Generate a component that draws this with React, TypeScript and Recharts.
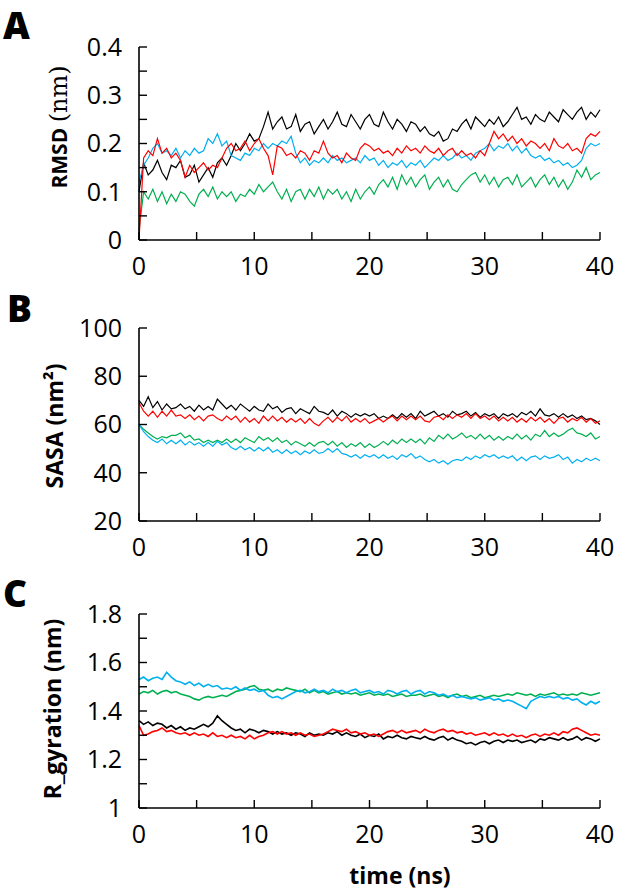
import React from "react";
import { LineChart, Line, XAxis, YAxis } from "recharts";

const TIME = [
  0,0.4,0.8,1.2,1.6,2,2.4,2.8,3.2,3.6,
  4,4.4,4.8,5.2,5.6,6,6.4,6.8,7.2,7.6,
  8,8.4,8.8,9.2,9.6,10,10.4,10.8,11.2,11.6,
  12,12.4,12.8,13.2,13.6,14,14.4,14.8,15.2,15.6,
  16,16.4,16.8,17.2,17.6,18,18.4,18.8,19.2,19.6,
  20,20.4,20.8,21.2,21.6,22,22.4,22.8,23.2,23.6,
  24,24.4,24.8,25.2,25.6,26,26.4,26.8,27.2,27.6,
  28,28.4,28.8,29.2,29.6,30,30.4,30.8,31.2,31.6,
  32,32.4,32.8,33.2,33.6,34,34.4,34.8,35.2,35.6,
  36,36.4,36.8,37.2,37.6,38,38.4,38.8,39.2,39.6,
  40,
];

// Panel A: RMSD (nm)
const A_BLACK = [
  0.10,0.16,0.135,0.145,0.165,0.14,0.125,0.155,0.15,0.165,
  0.13,0.135,0.155,0.12,0.135,0.15,0.13,0.16,0.17,0.155,
  0.175,0.2,0.185,0.2,0.22,0.205,0.21,0.235,0.265,0.23,
  0.245,0.255,0.23,0.235,0.26,0.225,0.24,0.245,0.22,0.235,
  0.25,0.23,0.245,0.265,0.24,0.235,0.26,0.245,0.23,0.25,
  0.26,0.24,0.235,0.265,0.245,0.23,0.25,0.24,0.225,0.245,
  0.24,0.225,0.235,0.22,0.215,0.225,0.205,0.21,0.23,0.225,
  0.24,0.25,0.23,0.255,0.245,0.235,0.25,0.24,0.255,0.235,
  0.245,0.26,0.275,0.25,0.255,0.24,0.26,0.25,0.245,0.265,
  0.255,0.245,0.27,0.26,0.25,0.265,0.275,0.25,0.265,0.255,
  0.27,
];
const A_RED = [
  0.0,0.17,0.185,0.175,0.21,0.18,0.19,0.17,0.18,0.165,
  0.13,0.155,0.14,0.15,0.16,0.145,0.155,0.15,0.17,0.19,
  0.2,0.185,0.19,0.205,0.185,0.2,0.21,0.19,0.175,0.135,
  0.195,0.19,0.175,0.18,0.17,0.185,0.18,0.165,0.185,0.18,
  0.205,0.18,0.17,0.175,0.16,0.18,0.17,0.165,0.19,0.2,
  0.195,0.185,0.19,0.18,0.185,0.175,0.19,0.18,0.195,0.185,
  0.19,0.18,0.195,0.185,0.18,0.19,0.175,0.185,0.19,0.175,
  0.185,0.175,0.18,0.17,0.185,0.175,0.2,0.225,0.21,0.22,
  0.205,0.215,0.2,0.21,0.195,0.205,0.2,0.19,0.2,0.185,
  0.21,0.195,0.19,0.2,0.185,0.19,0.18,0.21,0.22,0.215,
  0.225,
];
const A_BLUE = [
  0.12,0.155,0.17,0.19,0.2,0.18,0.185,0.175,0.19,0.17,
  0.185,0.175,0.19,0.18,0.185,0.21,0.2,0.22,0.195,0.205,
  0.175,0.17,0.165,0.18,0.175,0.19,0.185,0.2,0.19,0.2,
  0.195,0.205,0.2,0.215,0.18,0.16,0.17,0.155,0.165,0.16,
  0.17,0.16,0.175,0.165,0.17,0.16,0.165,0.17,0.16,0.175,
  0.165,0.17,0.155,0.165,0.15,0.16,0.155,0.165,0.15,0.16,
  0.155,0.165,0.15,0.16,0.17,0.165,0.175,0.165,0.17,0.18,
  0.17,0.175,0.165,0.18,0.185,0.19,0.2,0.185,0.195,0.19,
  0.2,0.185,0.195,0.18,0.19,0.175,0.17,0.175,0.165,0.17,
  0.16,0.165,0.155,0.16,0.15,0.155,0.165,0.19,0.2,0.195,
  0.2,
];
const A_GREEN = [
  0.02,0.1,0.085,0.105,0.08,0.1,0.075,0.095,0.08,0.1,
  0.095,0.08,0.07,0.095,0.105,0.09,0.11,0.085,0.1,0.09,
  0.1,0.08,0.095,0.09,0.105,0.095,0.115,0.1,0.11,0.12,
  0.1,0.085,0.105,0.08,0.1,0.105,0.085,0.105,0.09,0.11,
  0.085,0.105,0.095,0.105,0.085,0.1,0.08,0.105,0.085,0.1,
  0.11,0.095,0.115,0.125,0.11,0.13,0.105,0.135,0.115,0.13,
  0.11,0.125,0.135,0.105,0.12,0.13,0.11,0.125,0.105,0.1,
  0.115,0.125,0.135,0.14,0.12,0.135,0.115,0.13,0.11,0.125,
  0.13,0.115,0.135,0.11,0.12,0.13,0.11,0.125,0.135,0.115,
  0.13,0.11,0.125,0.105,0.12,0.145,0.13,0.15,0.125,0.135,
  0.14,
];

// Panel B: SASA (nm²)
const B_BLACK = [
  70,67.5,71.5,67,69.5,66,68.5,66.5,67,68.5,
  66.5,67.5,65.5,68,66,67.5,66,70.5,68.5,66.5,
  68,66,68.5,67,65.5,67.5,66,65.5,68.5,66.5,
  67.5,65,66.5,67,64.5,66.5,65.5,64.5,67.5,65.5,
  65,64,66,63.5,65.5,64.5,63,64.5,63.5,64.5,
  63.5,64.5,62.5,63.5,62.5,64,62.5,64.5,63,64.5,
  62.5,65.5,63.5,64.5,65.5,63.5,64.5,63,65.5,64,
  64.5,65.5,63.5,65,63,64.5,63.5,64.5,62.5,64.5,
  63.5,64.5,63,65,64,65.5,63.5,66.5,64,63.5,
  64.5,63,64.5,63,64,62.5,63.5,62,62.5,61.5,
  60,
];
const B_RED = [
  69,65.5,63.5,65.5,63,65.5,63.5,66,63.5,64,
  62.5,64,62,63.5,61.5,63.5,64,62.5,61.5,63.5,
  62,63.5,61,63,61,62.5,60.5,63.5,61.5,63.5,
  61.5,63,61,62.5,61,62.5,60.5,62.5,60.5,59.5,
  61.5,63,61,63,61.5,63.5,61,62.5,61,62.5,
  60.5,61.5,62.5,61,62.5,63.5,61.5,63.5,62,63.5,
  62,63.5,61.5,61,63,63.5,62,64,62.5,64,
  63,64.5,62.5,64.5,62.5,63.5,62,63.5,61.5,63,
  61.5,63,61,62.5,61,63,61.5,63,61,62.5,
  60.5,62.5,63,61,62.5,61.5,63,61,62.5,60.5,
  61.5,
];
const B_GREEN = [
  60,58,56.5,55,54,55,54.5,55.5,55.5,56.5,
  54.5,55.5,53.5,54,52.5,53.5,52.5,53.5,52.5,54,
  52.5,54,52.5,54.5,53.5,52.5,55,53.5,54.5,53,
  54.5,52.5,53.5,51.5,53,52,51,52.5,51,52.5,
  53,51.5,53,51,52.5,50.5,52,51,52.5,50.5,
  52,50.5,51.5,53,51.5,53.5,52,54,52.5,54,
  52.5,54,52,54.5,53,55.5,54,56,54,55,
  56.5,54.5,55.5,54,56,54,55.5,53.5,55,53.5,
  55,54,56,54,55.5,53.5,56,55,57.5,55,
  56.5,55,56,57.5,58.5,56.5,56,55,56.5,54,
  55,
];
const B_BLUE = [
  60,57,55,53.5,52.5,54,52,53.5,52,53.5,
  51.5,53,51.5,52.5,51,52.5,51,53,51.5,52.5,
  50.5,49.5,51,49.5,50.5,49,50.5,49,50.5,48.5,
  49.5,48,49.5,48,49,47.5,49,48,49.5,48,
  48.5,50,48.5,50,48,47.5,46.5,47.5,46,47.5,
  46.5,47.5,46,47.5,46,47,45.5,47.5,46.5,48,
  46,47,45.5,44.5,45.5,44,45,43.5,45,45.5,
  45,46.5,45.5,47,46,47.5,46.5,47.5,46,47,
  46,47,45,46.5,45,46.5,47,45.5,47,46,
  46.5,47.5,45.5,46.5,44,45.5,44.5,46,45,46,
  45,
];

// Panel C: R_gyration (nm)
const C_BLACK = [
  1.36,1.345,1.355,1.34,1.35,1.345,1.33,1.34,1.325,1.335,
  1.32,1.33,1.325,1.335,1.345,1.335,1.35,1.38,1.36,1.345,
  1.33,1.32,1.325,1.31,1.325,1.32,1.31,1.32,1.315,1.305,
  1.315,1.305,1.31,1.3,1.31,1.305,1.295,1.31,1.3,1.305,
  1.3,1.31,1.305,1.315,1.3,1.31,1.3,1.295,1.305,1.29,
  1.3,1.295,1.305,1.285,1.295,1.29,1.3,1.29,1.285,1.295,
  1.29,1.285,1.295,1.285,1.28,1.29,1.295,1.28,1.29,1.28,
  1.275,1.265,1.27,1.26,1.27,1.275,1.265,1.275,1.28,1.27,
  1.28,1.275,1.28,1.27,1.275,1.28,1.27,1.285,1.28,1.29,
  1.285,1.28,1.29,1.28,1.285,1.295,1.28,1.29,1.285,1.275,
  1.285,
];
const C_RED = [
  1.34,1.3,1.305,1.315,1.32,1.33,1.315,1.32,1.31,1.305,
  1.31,1.3,1.31,1.3,1.305,1.295,1.31,1.295,1.3,1.29,
  1.3,1.29,1.295,1.285,1.3,1.285,1.295,1.3,1.31,1.315,
  1.305,1.315,1.305,1.31,1.3,1.31,1.3,1.305,1.295,1.3,
  1.305,1.315,1.325,1.32,1.315,1.325,1.31,1.315,1.305,1.31,
  1.3,1.305,1.295,1.305,1.315,1.32,1.31,1.32,1.31,1.315,
  1.32,1.31,1.325,1.315,1.31,1.32,1.325,1.315,1.32,1.31,
  1.315,1.305,1.31,1.3,1.305,1.31,1.3,1.31,1.3,1.305,
  1.295,1.305,1.295,1.3,1.29,1.3,1.305,1.295,1.305,1.3,
  1.31,1.3,1.315,1.31,1.325,1.33,1.32,1.31,1.3,1.305,
  1.3,
];
const C_BLUE = [
  1.53,1.54,1.525,1.535,1.54,1.53,1.56,1.54,1.525,1.52,
  1.51,1.52,1.505,1.515,1.5,1.51,1.5,1.505,1.49,1.495,
  1.49,1.5,1.485,1.495,1.485,1.49,1.48,1.485,1.465,1.455,
  1.46,1.45,1.46,1.47,1.48,1.485,1.475,1.48,1.49,1.48,
  1.485,1.475,1.49,1.48,1.485,1.475,1.485,1.49,1.475,1.48,
  1.485,1.475,1.48,1.47,1.485,1.48,1.47,1.48,1.485,1.47,
  1.48,1.485,1.47,1.48,1.475,1.465,1.47,1.46,1.465,1.455,
  1.46,1.455,1.45,1.455,1.445,1.45,1.455,1.445,1.45,1.44,
  1.445,1.44,1.43,1.42,1.41,1.44,1.45,1.46,1.455,1.46,
  1.455,1.46,1.45,1.455,1.445,1.45,1.435,1.425,1.44,1.43,
  1.44,
];
const C_GREEN = [
  1.47,1.48,1.475,1.485,1.47,1.48,1.485,1.475,1.48,1.47,
  1.465,1.46,1.45,1.445,1.455,1.46,1.455,1.46,1.465,1.46,
  1.47,1.48,1.485,1.49,1.5,1.505,1.49,1.485,1.49,1.48,
  1.49,1.485,1.495,1.49,1.485,1.48,1.49,1.475,1.485,1.475,
  1.48,1.47,1.475,1.48,1.47,1.475,1.47,1.475,1.465,1.47,
  1.475,1.465,1.47,1.465,1.47,1.46,1.465,1.47,1.46,1.465,
  1.465,1.47,1.46,1.465,1.47,1.46,1.465,1.455,1.465,1.47,
  1.46,1.465,1.455,1.46,1.465,1.455,1.46,1.465,1.46,1.465,
  1.47,1.465,1.475,1.47,1.465,1.47,1.46,1.47,1.465,1.47,
  1.475,1.465,1.47,1.465,1.47,1.465,1.475,1.47,1.465,1.47,
  1.475,
];

const X_TICKS = [0, 5, 10, 15, 20, 25, 30, 35, 40];
const X_LABELED = [0, 10, 20, 30, 40];
const A_Y_TICKS = [0, 0.05, 0.1, 0.15, 0.2, 0.25, 0.3, 0.35, 0.4];
const A_Y_LABELED = [0, 0.1, 0.2, 0.3, 0.4];
const B_Y_TICKS = [20, 40, 60, 80, 100];
const B_Y_LABELED = [20, 40, 60, 80, 100];
const C_Y_TICKS = [1, 1.1, 1.2, 1.3, 1.4, 1.5, 1.6, 1.7, 1.8];
const C_Y_LABELED = [1, 1.2, 1.4, 1.6, 1.8];

const COLORS = { black: "#000000", red: "#ff0000", blue: "#00b0f0", green: "#00b050" };
const FONT = "'Open Sans', sans-serif";

function build(black: number[], red: number[], blue: number[], green: number[]) {
  return TIME.map((t, i) => ({ t, black: black[i], red: red[i], blue: blue[i], green: green[i] }));
}

const fmt = (labeled: number[]) => (v: number) =>
  labeled.some((l) => Math.abs(l - v) < 1e-9) ? String(v) : "";

function Panel(props: {
  data: any[];
  domain: [number, number];
  yTicks: number[];
  yLabeled: number[];
  top: number;
  height: number;
  marginTop: number;
  marginBottom: number;
  lineWidth: number;
}) {
  const { data, domain, yTicks, yLabeled, top, height, marginTop, marginBottom, lineWidth } = props;
  const tickStyle = { fill: "#000", fontSize: 25, fontFamily: FONT };
  const axisLine = { stroke: "#000", strokeWidth: 1.6 };
  return (
    <div style={{ position: "absolute", left: 0, top }}>
      <LineChart
        width={617}
        height={height}
        data={data}
        margin={{ top: marginTop, right: 17, left: 79, bottom: marginBottom }}
      >
        <XAxis
          dataKey="t"
          type="number"
          domain={[0, 40]}
          ticks={X_TICKS}
          tickFormatter={fmt(X_LABELED)}
          interval={0}
          tick={tickStyle}
          tickSize={-8}
          tickMargin={25}
          tickLine={{ stroke: "#000", strokeWidth: 1.4 }}
          axisLine={axisLine}
          height={40}
        />
        <XAxis
          xAxisId="top"
          orientation="top"
          dataKey="t"
          type="number"
          domain={[0, 40]}
          tick={false}
          tickLine={false}
          axisLine={axisLine}
          height={0}
        />
        <YAxis
          type="number"
          domain={domain}
          ticks={yTicks}
          tickFormatter={fmt(yLabeled)}
          interval={0}
          tick={tickStyle}
          tickSize={-8}
          tickMargin={25}
          tickLine={{ stroke: "#000", strokeWidth: 1.4 }}
          axisLine={axisLine}
          width={60}
          allowDataOverflow
        />
        <YAxis
          yAxisId="r"
          orientation="right"
          type="number"
          domain={domain}
          tick={false}
          tickLine={false}
          axisLine={axisLine}
          width={0}
        />
        <Line dataKey="black" stroke={COLORS.black} strokeWidth={lineWidth} dot={false} isAnimationActive={false} />
        <Line dataKey="green" stroke={COLORS.green} strokeWidth={lineWidth} dot={false} isAnimationActive={false} />
        <Line dataKey="blue" stroke={COLORS.blue} strokeWidth={lineWidth} dot={false} isAnimationActive={false} />
        <Line dataKey="red" stroke={COLORS.red} strokeWidth={lineWidth} dot={false} isAnimationActive={false} />
      </LineChart>
    </div>
  );
}

export default function App() {
  const dataA = build(A_BLACK, A_RED, A_BLUE, A_GREEN);
  const dataB = build(B_BLACK, B_RED, B_BLUE, B_GREEN);
  const dataC = build(C_BLACK, C_RED, C_BLUE, C_GREEN);
  return (
    <div style={{ position: "absolute", left: 0, top: 0, width: 617, height: 894, background: "#fff" }}>
      <Panel data={dataA} domain={[0, 0.4]} yTicks={A_Y_TICKS} yLabeled={A_Y_LABELED} top={0} height={290} marginTop={47} marginBottom={10} lineWidth={1.2} />
      <Panel data={dataB} domain={[20, 100]} yTicks={B_Y_TICKS} yLabeled={B_Y_LABELED} top={290} height={290} marginTop={38} marginBottom={19} lineWidth={1.2} />
      <Panel data={dataC} domain={[1, 1.8]} yTicks={C_Y_TICKS} yLabeled={C_Y_LABELED} top={580} height={314} marginTop={34} marginBottom={46} lineWidth={1.6} />
      <svg width={617} height={894} style={{ position: "absolute", left: 0, top: 0, pointerEvents: "none" }}>
        <g fontFamily={FONT} fontWeight={800} fontSize={37} fill="#000">
          <text x={3} y={39}>A</text>
          <text x={7} y={322}>B</text>
          <text x={3} y={607}>C</text>
        </g>
        <text transform="translate(67,127) rotate(-90)" textAnchor="middle" fill="#000">
          <tspan fontFamily={FONT} fontWeight={700} fontSize={21}>RMSD </tspan>
          <tspan fontFamily="'DejaVu Serif', serif" fontSize={24}>(nm)</tspan>
        </text>
        <text transform="translate(63,426) rotate(-90)" textAnchor="middle" fill="#000" fontFamily={FONT} fontWeight={700} fontSize={23}>
          SASA (nm²)
        </text>
        <text transform="translate(61,709) rotate(-90)" textAnchor="middle" fill="#000" fontFamily={FONT} fontWeight={700} fontSize={23}>
          R_gyration (nm)
        </text>
        <text x={400} y={884} textAnchor="middle" fill="#000" fontFamily={FONT} fontWeight={700} fontSize={23}>
          time (ns)
        </text>
      </svg>
    </div>
  );
}
